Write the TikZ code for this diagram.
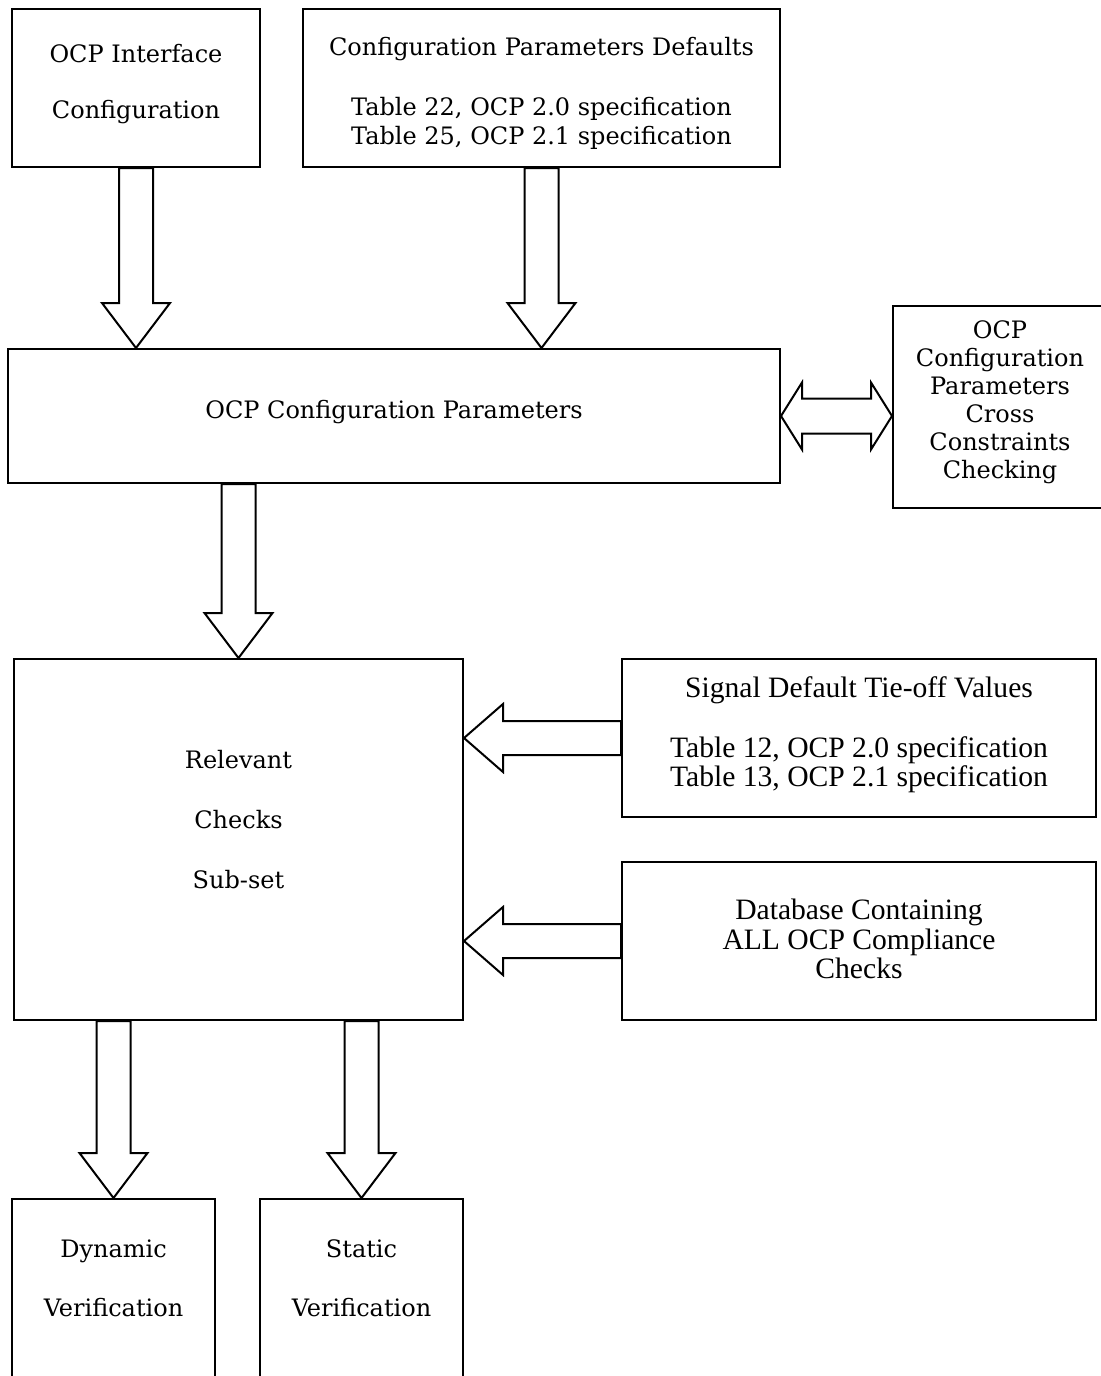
\documentclass[tikz,border=0pt]{standalone}
\usepackage{fontspec}
\setmainfont{DejaVu Serif}
\newfontfamily\timesfont{Liberation Serif}
\usetikzlibrary{calc}
\tikzset{
  box/.style={
    draw,
    line width=1pt,
    rectangle,
    inner sep=0pt
  },
  lbl/.style={
    align=center,
    inner sep=0pt,
    font=\fontsize{12}{14.5}\selectfont
  },
  tlbl/.style={lbl,font=\timesfont\fontsize{14.8}{14.7}\selectfont},
  blockarr/.style={draw,line width=1pt,fill=white,line join=miter}
}
% fat open arrow from #2 to #3, #1 = head length
\newcommand{\blockarrow}[3][22.5pt]{%
  \coordinate (ba-b) at ($(#3)!#1!(#2)$);
  \draw[blockarr] ($(#2)!8.5pt!90:(#3)$) -- ($(ba-b)!8.5pt!90:(#3)$)
    -- ($(ba-b)!17pt!90:(#3)$) -- (#3) -- ($(ba-b)!17pt!-90:(#3)$)
    -- ($(ba-b)!8.5pt!-90:(#3)$) -- ($(#2)!8.5pt!-90:(#3)$) -- cycle;
}
% fat open arrow with a head at both ends
\newcommand{\blockdouble}[3][10.5pt]{%
  \coordinate (bd-a) at ($(#2)!#1!(#3)$);
  \coordinate (bd-b) at ($(#3)!#1!(#2)$);
  \draw[blockarr] (#2) -- ($(bd-a)!16.75pt!90:(#3)$) -- ($(bd-a)!8.75pt!90:(#3)$)
    -- ($(bd-b)!8.75pt!90:(#3)$) -- ($(bd-b)!16.75pt!90:(#3)$) -- (#3)
    -- ($(bd-b)!16.75pt!-90:(#3)$) -- ($(bd-b)!8.75pt!-90:(#3)$)
    -- ($(bd-a)!8.75pt!-90:(#3)$) -- ($(bd-a)!16.75pt!-90:(#3)$) -- cycle;
}

\begin{document}
\begin{tikzpicture}[x=0.5pt,y=-0.5pt]

  \useasboundingbox (0,0) rectangle (1101,1376);
  \clip (0,0) rectangle (1101,1376);

  % top row
  \node[box,minimum width=124pt,minimum height=79pt] at (136,88) (iface) {};
  \node[lbl] at (136,84) (iface-t) {OCP Interface\\[13.5pt]Configuration};

  \node[box,minimum width=238.5pt,minimum height=79pt] at (541.5,88) (defaults) {};
  \node[lbl] at (541.5,93.5) (defaults-t) {
    Configuration Parameters Defaults\\[15.5pt]
    Table 22, OCP 2.0 specification\\
    Table 25, OCP 2.1 specification
  };

  % configuration parameters
  \node[box,minimum width=386pt,minimum height=67pt] at (394,416) (ocpcfg) {};
  \node[lbl] at (394,412) (ocpcfg-t) {OCP Configuration Parameters};

  \node[box,minimum width=107pt,minimum height=101pt] at (1000,407) (xcheck) {};
  \node[lbl,font=\fontsize{12}{14}\selectfont] at (1000,402) (xcheck-t) {
    OCP\\Configuration\\Parameters\\Cross\\Constraints\\Checking
  };

  % checks
  \node[box,minimum width=224.5pt,minimum height=180.5pt] at (238.5,839.5) (relevant) {};
  \node[lbl] at (238.5,820) (relevant-t) {Relevant\\[15.5pt]Checks\\[15.5pt]Sub-set};

  \node[box,minimum width=237pt,minimum height=79pt] at (859,738) (tieoff) {};
  \node[tlbl] at (859,735) (tieoff-t) {
    Signal Default Tie-off Values\\[15.3pt]
    Table 12, OCP 2.0 specification\\
    Table 13, OCP 2.1 specification
  };

  \node[box,minimum width=237pt,minimum height=79pt] at (859,941) (database) {};
  \node[tlbl] at (859,939) (database-t) {
    Database Containing\\ALL OCP Compliance\\Checks
  };

  % verification
  \node[box,minimum width=101.5pt,minimum height=95.5pt] at (113.5,1294.5) (dynamic) {};
  \node[lbl] at (113.5,1278) (dynamic-t) {Dynamic\\[15pt]Verification};

  \node[box,minimum width=101.5pt,minimum height=95.5pt] at (361.5,1294.5) (static) {};
  \node[lbl] at (361.5,1278) (static-t) {Static\\[15pt]Verification};

  % arrow ends
  \coordinate (a1) at (ocpcfg.north -| iface.south);
  \coordinate (a2) at (ocpcfg.north -| defaults.south);
  \coordinate (a3) at (ocpcfg.south -| relevant.north);
  \coordinate (a4) at (relevant.east |- tieoff.west);
  \coordinate (a5) at (relevant.east |- database.west);
  \coordinate (a6) at (relevant.south -| dynamic.north);
  \coordinate (a7) at (relevant.south -| static.north);
  \coordinate (a8) at (xcheck.west |- ocpcfg.east);

  \blockarrow{iface.south}{a1}
  \blockarrow{defaults.south}{a2}
  \blockarrow{a3}{relevant.north}
  \blockarrow[19.5pt]{tieoff.west}{a4}
  \blockarrow[19.5pt]{database.west}{a5}
  \blockarrow{a6}{dynamic.north}
  \blockarrow{a7}{static.north}
  \blockdouble{ocpcfg.east}{a8}

\end{tikzpicture}
\end{document}
